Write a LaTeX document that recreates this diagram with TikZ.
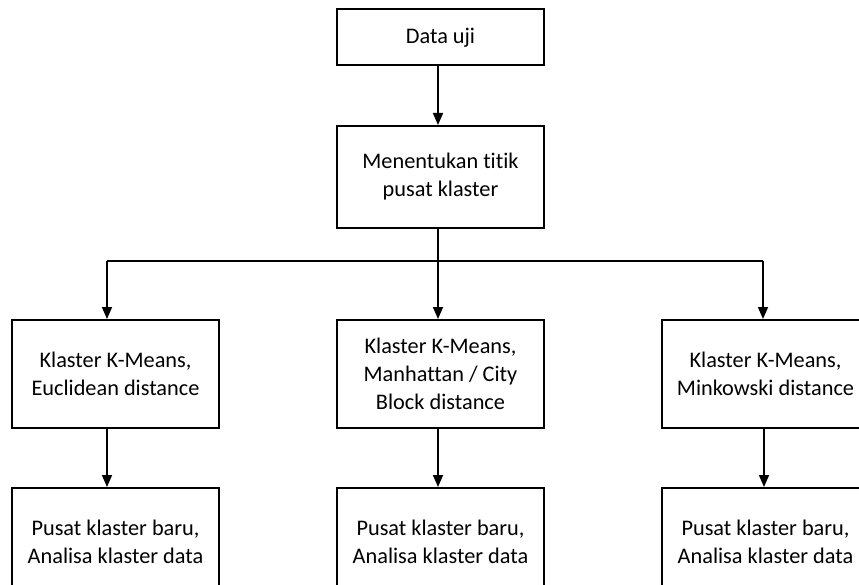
\documentclass[tikz,border=0pt]{standalone}
\usepackage{fontspec}
\setmainfont[Ligatures=NoCommon]{Carlito}
\usetikzlibrary{arrows.meta}

\begin{document}
\begin{tikzpicture}[x=1pt, y=-1pt,
    box/.style={draw, line width=2pt, minimum width=207pt, align=center,
      font=\fontsize{22.3}{28}\selectfont, inner sep=0pt},
    arr/.style={line width=1.6pt, -{Triangle[width=10pt,length=12pt]}}]
    \useasboundingbox (0,0) rectangle (859,585);
    \clip (0,0) rectangle (859,585);

    % top of the chart
    \node[box, minimum height=56pt] (uji) at (440.5, 37.5) {Data uji};
    \node[box, minimum height=102pt] (pusat) at (440.5, 177) {Menentukan titik\\pusat klaster};

    % three methods
    \node[box, minimum height=108pt] (euclid) at (115.5, 374) {Klaster K-Means,\\Euclidean distance};
    \node[box, minimum height=108pt] (manhat) at (440.5, 374) {Klaster K-Means,\\Manhattan / City\\Block distance};
    \node[box, minimum height=108pt] (minkow) at (765.5, 374) {Klaster K-Means,\\Minkowski distance};

    % results
    \node[box, minimum height=108pt] (baruA) at (115.5, 542) {Pusat klaster baru,\\Analisa klaster data};
    \node[box, minimum height=108pt] (baruB) at (440.5, 542) {Pusat klaster baru,\\Analisa klaster data};
    \node[box, minimum height=108pt] (baruC) at (765.5, 542) {Pusat klaster baru,\\Analisa klaster data};

    \draw[arr] ([xshift=-2.5]uji.south) -- ([xshift=-2.5]pusat.north);

    % fork
    \coordinate (forkL) at (107, 261);
    \coordinate (forkM) at (438, 261);
    \coordinate (forkR) at (763, 261);
    \draw[line width=1.6pt] ([xshift=-2.5]pusat.south) -- (forkM);
    \draw[line width=1.6pt] (forkL) -- (forkR);
    \draw[arr] (forkL) -- (forkL |- euclid.north);
    \draw[arr] (forkM) -- (forkM |- manhat.north);
    \draw[arr] (forkR) -- (forkR |- minkow.north);

    \draw[arr] ([xshift=-8.5]euclid.south) -- ([xshift=-8.5]baruA.north);
    \draw[arr] ([xshift=-2.5]manhat.south) -- ([xshift=-2.5]baruB.north);
    \draw[arr] ([xshift=-1.5]minkow.south) -- ([xshift=-1.5]baruC.north);
  \end{tikzpicture}
\end{document}
